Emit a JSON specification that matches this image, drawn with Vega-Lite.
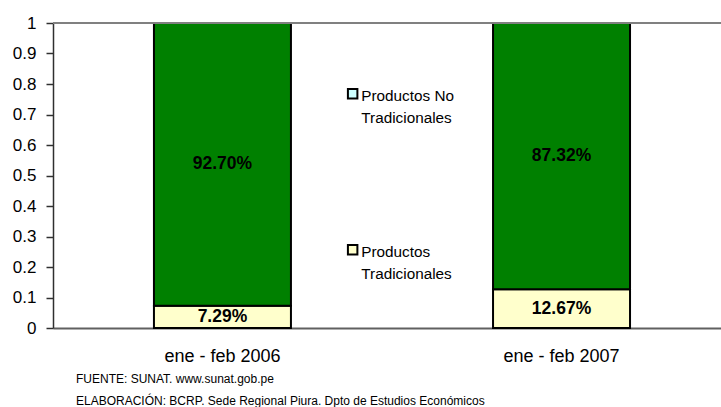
{
  "$schema": "https://vega.github.io/schema/vega-lite/v6.json",
  "width": 668,
  "height": 305,
  "autosize": {"type": "none"},
  "padding": {"left": 53, "top": 23, "right": 0, "bottom": 79},
  "background": "white",
  "config": {
    "view": {"stroke": null},
    "font": "Liberation Sans, Arial, sans-serif",
    "axisY": {
      "values": [0, 0.1, 0.2, 0.3, 0.4, 0.5, 0.6, 0.7, 0.8, 0.9, 1],
      "format": "~g",
      "grid": false,
      "labelOverlap": false,
      "domainColor": "#303030",
      "domainWidth": 1.5,
      "tickColor": "#303030",
      "tickWidth": 1.5,
      "tickSize": 7,
      "labelFontSize": 17,
      "labelColor": "black",
      "labelPadding": 10,
      "title": null
    },
    "axisX": {
      "labelAngle": 0,
      "ticks": false,
      "domainColor": "#606060",
      "domainWidth": 2,
      "labelFontSize": 18,
      "labelColor": "black",
      "labelPadding": 19,
      "title": null
    }
  },
  "title": {
    "text": ["FUENTE: SUNAT. www.sunat.gob.pe", "ELABORACIÓN: BCRP. Sede Regional Piura. Dpto de Estudios Económicos"],
    "orient": "bottom",
    "anchor": "start",
    "frame": "group",
    "fontSize": 12,
    "fontWeight": "normal",
    "color": "black",
    "lineHeight": 22,
    "offset": 9,
    "dx": 23
  },
  "data": {
    "values": [
      {"periodo": "ene - feb 2006", "tipo": "Productos Tradicionales", "ord": 0, "valor": 0.0729, "etiqueta": "7.29%"},
      {"periodo": "ene - feb 2006", "tipo": "Productos No Tradicionales", "ord": 1, "valor": 0.9270, "etiqueta": "92.70%"},
      {"periodo": "ene - feb 2007", "tipo": "Productos Tradicionales", "ord": 0, "valor": 0.1267, "etiqueta": "12.67%"},
      {"periodo": "ene - feb 2007", "tipo": "Productos No Tradicionales", "ord": 1, "valor": 0.8732, "etiqueta": "87.32%"}
    ]
  },
  "layer": [
    {
      "mark": {"type": "point", "shape": "square", "filled": true, "size": 81, "stroke": "black", "strokeWidth": 2, "opacity": 1},
      "encoding": {
        "x": {
          "field": "periodo",
          "type": "nominal",
          "title": null,
          "scale": {"paddingInner": 0.596, "paddingOuter": 0.283, "align": 0.526}
        },
        "y": {
          "datum": 0.5,
          "type": "quantitative",
          "scale": {"domain": [0, 1]},
          "title": null
        },
        "fill": {
          "field": "tipo",
          "type": "nominal",
          "scale": {
            "domain": ["Productos No Tradicionales", "Productos Tradicionales"],
            "range": ["#CCFFFF", "#FFFFCC"]
          },
          "legend": {
            "title": null,
            "orient": "none",
            "legendX": 292,
            "legendY": 63,
            "padding": 0,
            "symbolType": "square",
            "symbolSize": 90,
            "symbolStrokeColor": "black",
            "symbolStrokeWidth": 2,
            "symbolOpacity": 1,
            "labelFontSize": 15.3,
            "labelColor": "black",
            "labelLimit": 0,
            "labelOffset": 1,
            "labelBaseline": "alphabetic",
            "rowPadding": 114,
            "labelExpr": "datum.value == 'Productos Tradicionales' ? ['Productos', 'Tradicionales'] : ['Productos No', 'Tradicionales']",
            "encoding": {
              "labels": {"dy": {"value": 7}, "lineHeight": {"value": 22}}
            }
          }
        }
      }
    },
    {
      "mark": {"type": "bar", "stroke": "black", "strokeWidth": 2},
      "encoding": {
        "x": {"field": "periodo", "type": "nominal", "title": null},
        "y": {"field": "valor", "type": "quantitative", "stack": "zero", "title": null},
        "order": {"field": "ord", "type": "quantitative"},
        "color": {
          "field": "tipo",
          "type": "nominal",
          "scale": {
            "domain": ["Productos No Tradicionales", "Productos Tradicionales"],
            "range": ["#008000", "#FFFFCC"]
          },
          "legend": null
        }
      }
    },
    {
      "transform": [
        {"stack": "valor", "groupby": ["periodo"], "sort": [{"field": "ord"}], "as": ["v0", "v1"]},
        {"calculate": "(datum.v0 + datum.v1) / 2", "as": "mid"}
      ],
      "mark": {"type": "text", "fontSize": 17.5, "fontWeight": "bold", "color": "black", "baseline": "middle"},
      "encoding": {
        "x": {"field": "periodo", "type": "nominal", "title": null},
        "y": {"field": "mid", "type": "quantitative", "title": null},
        "text": {"field": "etiqueta"}
      }
    },
    {
      "mark": {"type": "rule", "color": "#808080", "strokeWidth": 2},
      "encoding": {"y": {"datum": 1, "type": "quantitative", "title": null}}
    }
  ]
}
